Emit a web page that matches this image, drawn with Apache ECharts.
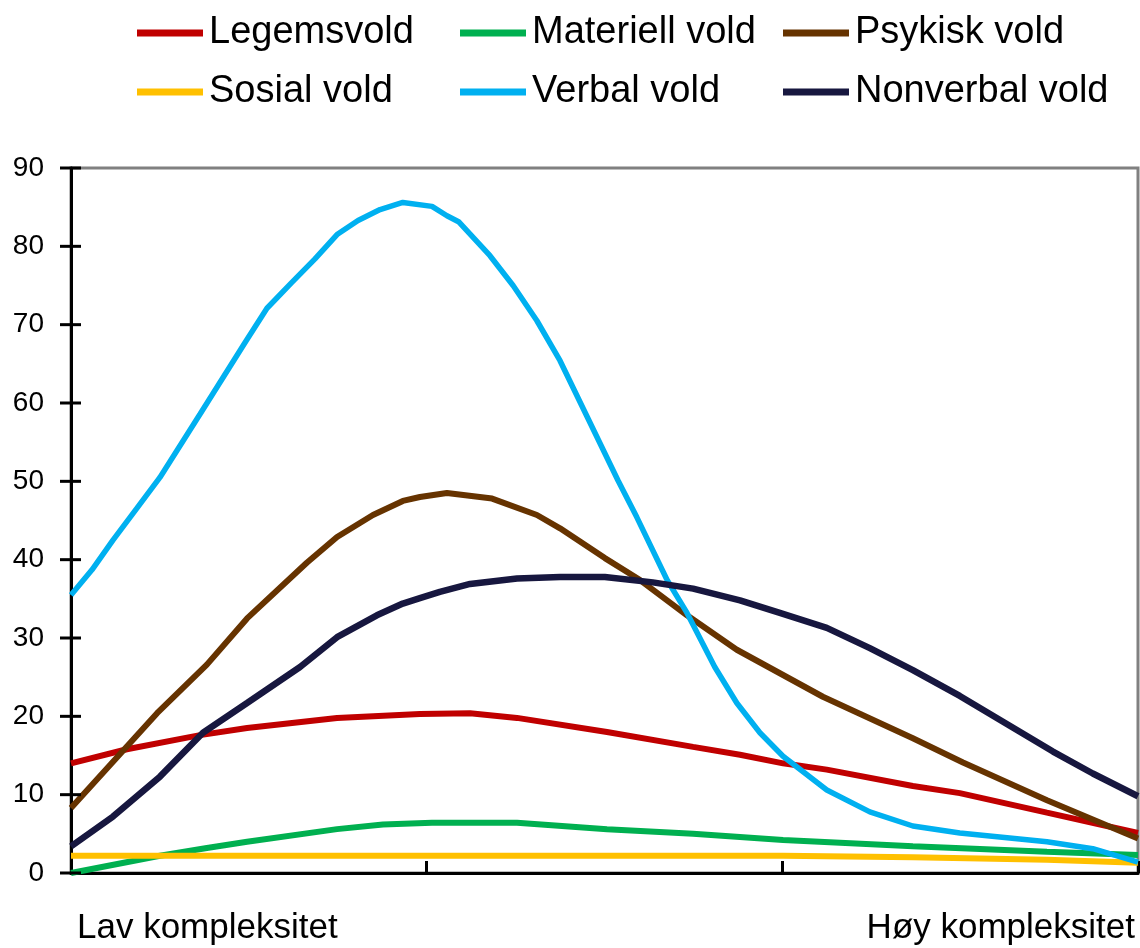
<!DOCTYPE html>
<html>
<head>
<meta charset="utf-8">
<script src="https://cdn.jsdelivr.net/npm/echarts@6/dist/echarts.min.js"></script>
<style>html,body{margin:0;padding:0;background:#fff;}#c{width:1140px;height:948px;}</style>
</head>
<body>
<div id="c"></div>
<script>
// ---- data (x: position along complexity scale 0..30, y: value) ----
var seriesNames = ['Legemsvold', 'Materiell vold', 'Psykisk vold', 'Sosial vold', 'Verbal vold', 'Nonverbal vold'];
var endLabels = ['Lav kompleksitet', 'Høy kompleksitet'];
var yTicks = [0, 10, 20, 30, 40, 50, 60, 70, 80, 90];

var legemsX = [0, 1.57, 3.63, 4.95, 7.48, 9.81, 11.22, 12.54, 15.07, 17.49, 18.81, 20.02, 21.25, 23.67, 24.99, 27.44, 30];
var legemsY = [14.0, 15.8, 17.6, 18.5, 19.8, 20.3, 20.4, 19.8, 18.0, 16.1, 15.1, 14.0, 13.2, 11.1, 10.2, 7.7, 5.1];

var materiellX = [0, 2.5, 3.82, 4.95, 7.48, 8.77, 10.15, 12.54, 15.07, 17.49, 20.02, 23.67, 27.44, 30];
var materiellY = [0, 2.2, 3.2, 4.0, 5.6, 6.2, 6.4, 6.4, 5.6, 5.0, 4.2, 3.4, 2.7, 2.3];

var psykiskX = [0, 2.42, 3.82, 4.95, 6.63, 7.48, 8.49, 9.33, 9.81, 10.57, 11.84, 13.10, 13.75, 15.01, 16.0, 17.32, 18.72, 19.93, 21.14, 23.67, 25.08, 27.44, 30];
var psykiskY = [8.3, 20.4, 26.6, 32.5, 39.6, 42.9, 45.7, 47.5, 48.0, 48.5, 47.8, 45.7, 44.0, 40.2, 37.4, 32.9, 28.5, 25.5, 22.5, 17.2, 14.1, 9.3, 4.4];

var sosialX = [0, 20.02, 23.67, 27.44, 30];
var sosialY = [2.2, 2.2, 2.0, 1.7, 1.3];

var verbalX = [0, 0.59, 1.18, 1.86, 2.5, 3.63, 4.89, 5.51, 6.19, 6.86, 7.48, 8.07, 8.69, 9.33, 10.15, 10.57, 10.91, 11.78, 12.43, 13.10, 13.75, 15.38, 15.91, 16.76, 17.32, 18.10, 18.72, 19.37, 20.02, 21.25, 22.46, 23.67, 24.99, 27.44, 28.73, 30];
var verbalY = [35.5, 38.7, 42.5, 46.6, 50.5, 58.6, 67.7, 72.1, 75.3, 78.4, 81.5, 83.3, 84.7, 85.6, 85.1, 83.9, 83.1, 78.8, 75.0, 70.5, 65.4, 50.1, 45.4, 37.4, 33.2, 26.3, 21.7, 17.9, 14.9, 10.6, 7.8, 6.0, 5.1, 4.0, 3.1, 1.4];

var nonverbalX = [0, 1.18, 2.5, 3.71, 4.95, 6.44, 7.48, 8.6, 9.33, 9.81, 10.37, 11.22, 12.54, 13.75, 15.01, 16.36, 17.49, 18.81, 19.93, 21.25, 22.46, 23.67, 24.99, 27.61, 28.73, 30];
var nonverbalY = [3.4, 7.2, 12.3, 17.9, 21.7, 26.3, 30.1, 32.9, 34.4, 35.1, 35.9, 36.9, 37.6, 37.8, 37.8, 37.1, 36.3, 34.8, 33.2, 31.3, 28.7, 25.9, 22.6, 15.5, 12.7, 9.8];

var colors = ['#C00000', '#00B050', '#663300', '#FFC000', '#00B0F0', '#17173F'];
var widths = [6, 6, 6, 6, 5.5, 6.5];

function pairs(xs, ys) { return xs.map(function (x, i) { return [x, ys[i]]; }); }
var allData = [
  pairs(legemsX, legemsY), pairs(materiellX, materiellY), pairs(psykiskX, psykiskY),
  pairs(sosialX, sosialY), pairs(verbalX, verbalY), pairs(nonverbalX, nonverbalY)
];

var FONT = "'Liberation Sans', Arial, sans-serif";
var chart = echarts.init(document.getElementById('c'), null, { renderer: 'canvas' });

var legendBase = {
  orient: 'vertical', top: 9, itemWidth: 66, itemHeight: 7, icon: 'rect', itemGap: 21,
  textStyle: { fontFamily: FONT, fontSize: 38, color: '#000', lineHeight: 38, padding: [0, 0, 0, 1] },
  selectedMode: false
};

var lineSeries = seriesNames.map(function (n, i) {
  return {
    name: n, type: 'line', data: allData[i], symbol: 'none', smooth: false,
    lineStyle: { color: colors[i], width: widths[i] },
    itemStyle: { color: colors[i] }, z: 2
  };
});

// crossing tick marks on the y axis, placed through the axis scale
var tickSeries = {
  type: 'custom', name: 'yticks', clip: false, silent: true, z: 5,
  data: yTicks.map(function (v) { return [0, v]; }),
  renderItem: function (params, api) {
    var p = api.coord([api.value(0), api.value(1)]);
    return {
      type: 'line',
      shape: { x1: p[0] - 11, y1: p[1], x2: p[0] + 10, y2: p[1] },
      style: { stroke: '#000', lineWidth: 3 }
    };
  }
};

var option = {
  backgroundColor: '#fff',
  animation: false,
  color: colors,
  legend: [
    Object.assign({}, legendBase, { left: 132, data: [seriesNames[0], seriesNames[3]] }),
    Object.assign({}, legendBase, { left: 455, data: [seriesNames[1], seriesNames[4]] }),
    Object.assign({}, legendBase, { left: 778, data: [seriesNames[2], seriesNames[5]] })
  ],
  grid: {
    left: 71, right: 2, top: 168, bottom: 75, show: true,
    borderColor: '#808080', borderWidth: 3, backgroundColor: 'transparent'
  },
  xAxis: {
    type: 'value', min: 0, max: 30, interval: 10,
    axisLine: { show: true, lineStyle: { color: '#000', width: 3 } },
    axisTick: { show: true, inside: true, length: 12, lineStyle: { color: '#000', width: 3 } },
    axisLabel: { show: false },
    splitLine: { show: false }
  },
  yAxis: {
    type: 'value', min: yTicks[0], max: yTicks[yTicks.length - 1], interval: 10,
    axisLine: { show: true, lineStyle: { color: '#000', width: 3 } },
    axisTick: { show: false },
    axisLabel: { show: true, margin: 27, fontFamily: FONT, fontSize: 28, color: '#000' },
    splitLine: { show: false }
  },
  series: lineSeries.concat([tickSeries]),
  graphic: [
    { type: 'text', left: 77, top: 911, style: { text: endLabels[0], font: "35px 'Liberation Sans', Arial, sans-serif", fill: '#000' } },
    { type: 'text', right: 5, top: 911, style: { text: endLabels[1], font: "35px 'Liberation Sans', Arial, sans-serif", fill: '#000' } }
  ]
};
chart.setOption(option);
</script>
</body>
</html>
